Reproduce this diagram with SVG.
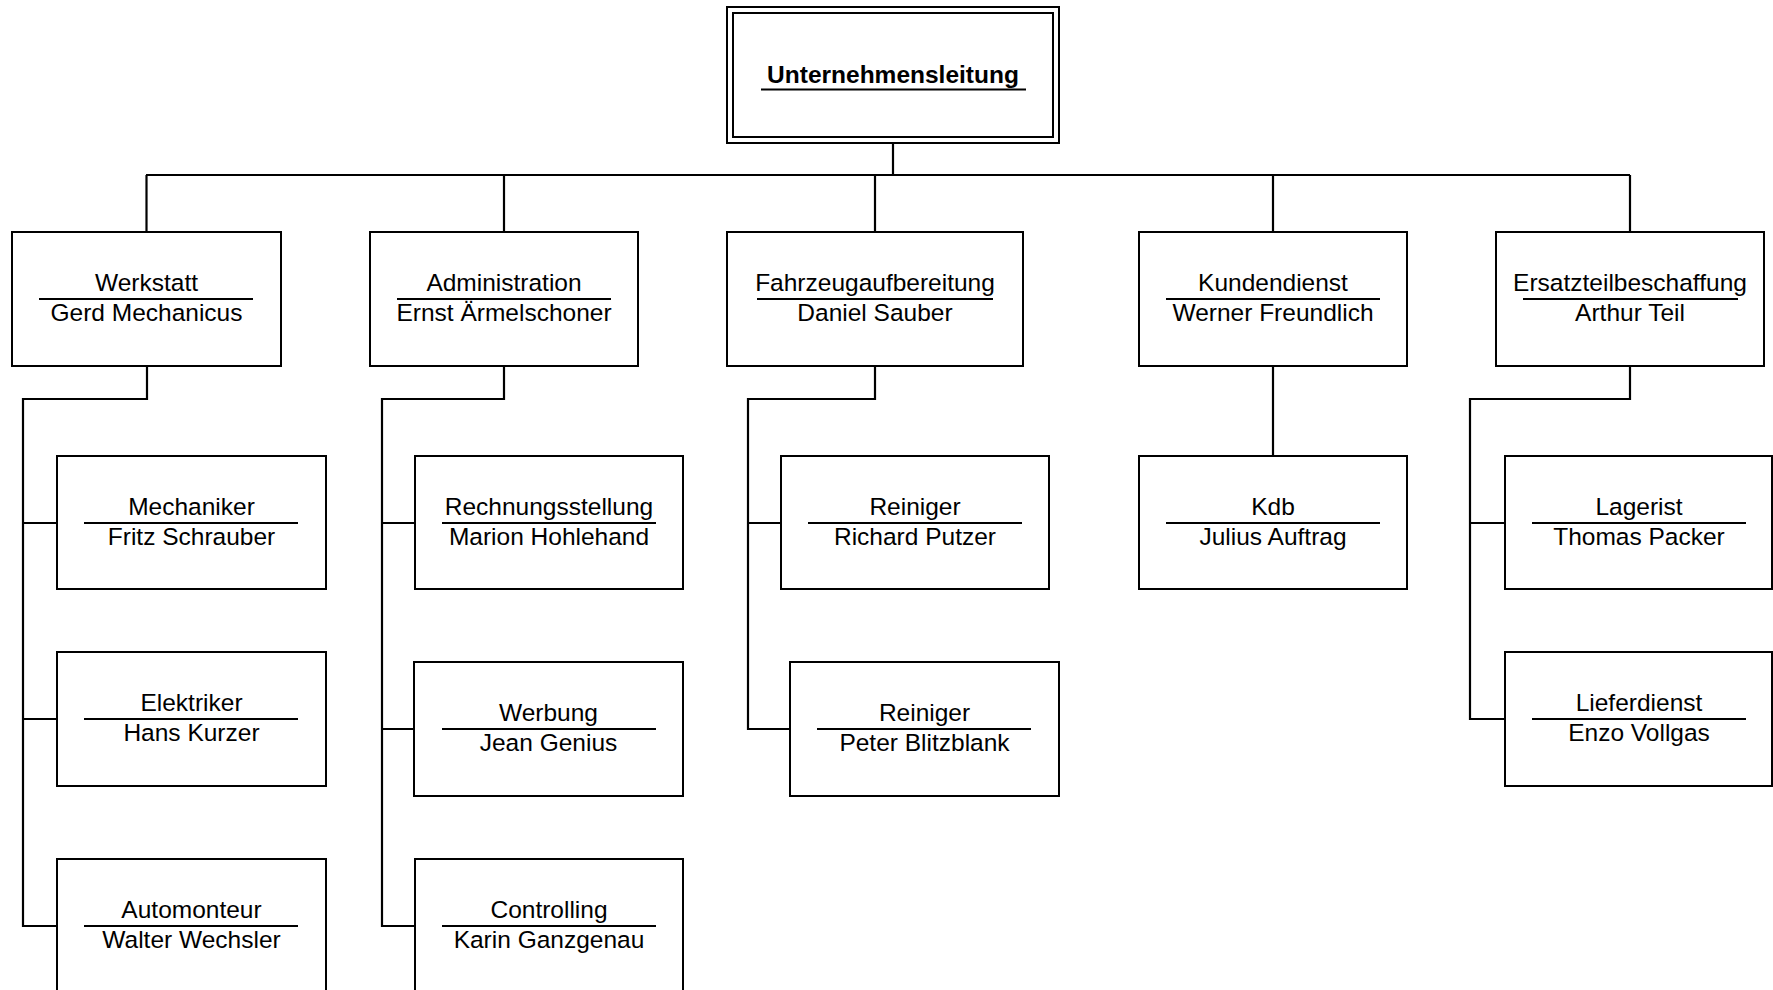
<svg xmlns="http://www.w3.org/2000/svg" width="1773" height="990" viewBox="0 0 1773 990">
<style>
.box{fill:#fff;stroke:#000;stroke-width:2}
.ul{stroke:#000;stroke-width:2}
.con{fill:none;stroke:#000;stroke-width:2.2}
text{font-family:"Liberation Sans",Arial,sans-serif;font-size:24.5px;fill:#000;text-anchor:middle}
.b{font-weight:bold}
</style>
<rect width="1773" height="990" fill="#fff"/>
<g id="connectors">
<path class="con" d="M893 143V175M146 175H1630M146.5 175V232M504 175V232M875 175V232M1273 175V232M1630 175V232"/>
<path class="con" d="M147 366V399H23V926H57M23 523H57M23 719H57"/>
<path class="con" d="M504 366V399H382V926H415M382 523H415M382 729H414"/>
<path class="con" d="M875 366V399H748V729H790M748 523H781"/>
<path class="con" d="M1273 366V456"/>
<path class="con" d="M1630 366V399H1470V719H1505M1470 523H1505"/>
</g>
<g id="unternehmensleitung">
<rect class="box" x="727" y="7" width="332" height="136"/>
<rect class="box" x="733" y="13" width="320" height="124"/>
<text class="b" x="893" y="83">Unternehmensleitung</text>
<line class="ul" x1="761" y1="89.5" x2="1026" y2="89.5"/>
</g>
<g id="werkstatt">
<rect class="box" x="12" y="232" width="269" height="134"/>
<line class="ul" x1="39" y1="299" x2="253" y2="299"/>
<text x="146.5" y="291">Werkstatt</text>
<text x="146.5" y="321">Gerd Mechanicus</text>
</g>
<g id="administration">
<rect class="box" x="370" y="232" width="268" height="134"/>
<line class="ul" x1="397" y1="299" x2="611" y2="299"/>
<text x="504" y="291">Administration</text>
<text x="504" y="321">Ernst Ärmelschoner</text>
</g>
<g id="fahrzeugaufbereitung">
<rect class="box" x="727" y="232" width="296" height="134"/>
<line class="ul" x1="757" y1="299" x2="993" y2="299"/>
<text x="875" y="291">Fahrzeugaufbereitung</text>
<text x="875" y="321">Daniel Sauber</text>
</g>
<g id="kundendienst">
<rect class="box" x="1139" y="232" width="268" height="134"/>
<line class="ul" x1="1166" y1="299" x2="1380" y2="299"/>
<text x="1273" y="291">Kundendienst</text>
<text x="1273" y="321">Werner Freundlich</text>
</g>
<g id="ersatzteilbeschaffung">
<rect class="box" x="1496" y="232" width="268" height="134"/>
<line class="ul" x1="1523" y1="299" x2="1738" y2="299"/>
<text x="1630" y="291">Ersatzteilbeschaffung</text>
<text x="1630" y="321">Arthur Teil</text>
</g>
<g id="mechaniker">
<rect class="box" x="57" y="456" width="269" height="133"/>
<line class="ul" x1="84" y1="523" x2="298" y2="523"/>
<text x="191.5" y="515">Mechaniker</text>
<text x="191.5" y="545">Fritz Schrauber</text>
</g>
<g id="elektriker">
<rect class="box" x="57" y="652" width="269" height="134"/>
<line class="ul" x1="84" y1="719" x2="298" y2="719"/>
<text x="191.5" y="711">Elektriker</text>
<text x="191.5" y="741">Hans Kurzer</text>
</g>
<g id="automonteur">
<rect class="box" x="57" y="859" width="269" height="134"/>
<line class="ul" x1="84" y1="926" x2="298" y2="926"/>
<text x="191.5" y="918">Automonteur</text>
<text x="191.5" y="948">Walter Wechsler</text>
</g>
<g id="rechnungsstellung">
<rect class="box" x="415" y="456" width="268" height="133"/>
<line class="ul" x1="442" y1="523" x2="656" y2="523"/>
<text x="549" y="515">Rechnungsstellung</text>
<text x="549" y="545">Marion Hohlehand</text>
</g>
<g id="werbung">
<rect class="box" x="414" y="662" width="269" height="134"/>
<line class="ul" x1="442" y1="729" x2="656" y2="729"/>
<text x="548.5" y="721">Werbung</text>
<text x="548.5" y="751">Jean Genius</text>
</g>
<g id="controlling">
<rect class="box" x="415" y="859" width="268" height="134"/>
<line class="ul" x1="442" y1="926" x2="656" y2="926"/>
<text x="549" y="918">Controlling</text>
<text x="549" y="948">Karin Ganzgenau</text>
</g>
<g id="reiniger1">
<rect class="box" x="781" y="456" width="268" height="133"/>
<line class="ul" x1="808" y1="523" x2="1022" y2="523"/>
<text x="915" y="515">Reiniger</text>
<text x="915" y="545">Richard Putzer</text>
</g>
<g id="reiniger2">
<rect class="box" x="790" y="662" width="269" height="134"/>
<line class="ul" x1="817" y1="729" x2="1031" y2="729"/>
<text x="924.5" y="721">Reiniger</text>
<text x="924.5" y="751">Peter Blitzblank</text>
</g>
<g id="kdb">
<rect class="box" x="1139" y="456" width="268" height="133"/>
<line class="ul" x1="1166" y1="523" x2="1380" y2="523"/>
<text x="1273" y="515">Kdb</text>
<text x="1273" y="545">Julius Auftrag</text>
</g>
<g id="lagerist">
<rect class="box" x="1505" y="456" width="267" height="133"/>
<line class="ul" x1="1532" y1="523" x2="1746" y2="523"/>
<text x="1639" y="515">Lagerist</text>
<text x="1639" y="545">Thomas Packer</text>
</g>
<g id="lieferdienst">
<rect class="box" x="1505" y="652" width="267" height="134"/>
<line class="ul" x1="1532" y1="719" x2="1746" y2="719"/>
<text x="1639" y="711">Lieferdienst</text>
<text x="1639" y="741">Enzo Vollgas</text>
</g>
</svg>
